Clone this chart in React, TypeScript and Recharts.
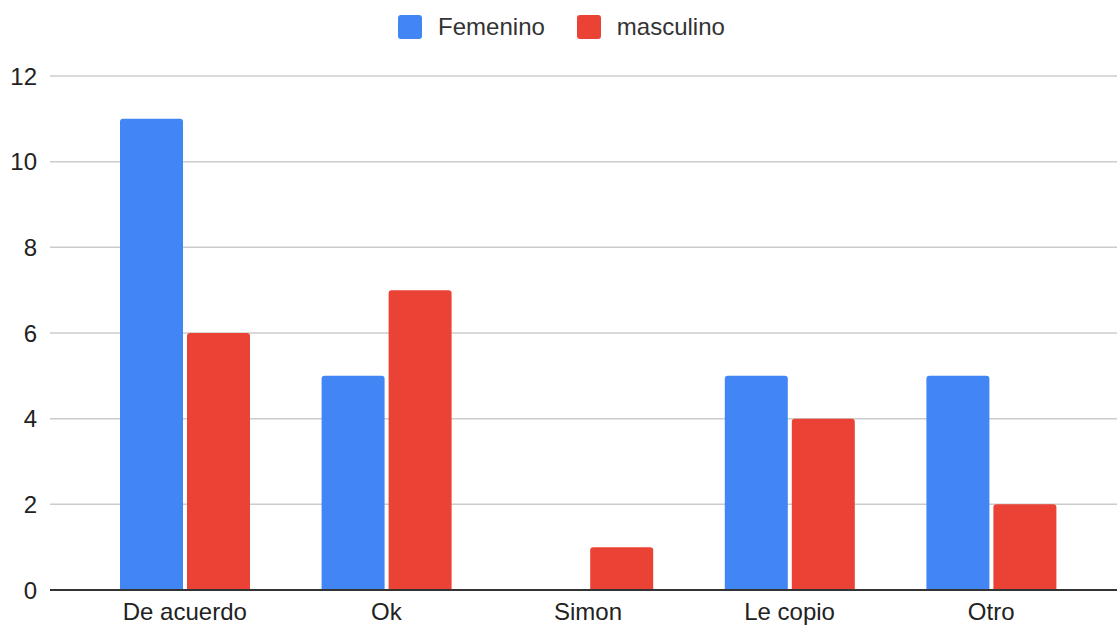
import React from "react";
import {
  BarChart,
  Bar,
  XAxis,
  YAxis,
  CartesianGrid,
  Legend,
} from "recharts";

const categories = ["De acuerdo", "Ok", "Simon", "Le copio", "Otro"];
const femenino = [11, 5, 0, 5, 5];
const masculino = [6, 7, 1, 4, 2];
const yTicks = [0, 2, 4, 6, 8, 10, 12];

const series = [
  { key: "femenino", name: "Femenino", color: "#4285F4" },
  { key: "masculino", name: "masculino", color: "#EA4335" },
];

const data = categories.map((name, i) => ({
  name,
  femenino: femenino[i],
  masculino: masculino[i],
}));

const FONT = 'Arial, "Liberation Sans", sans-serif';

function TopLegend() {
  return (
    <div
      style={{
        display: "flex",
        justifyContent: "center",
        alignItems: "center",
        fontFamily: FONT,
        fontSize: 24,
        color: "#333",
        height: 54,
        paddingLeft: 6,
      }}
    >
      {series.map((s, i) => (
        <div
          key={s.key}
          style={{
            display: "flex",
            alignItems: "center",
            marginLeft: i === 0 ? 0 : 32,
          }}
        >
          <span
            style={{
              width: 24,
              height: 24,
              borderRadius: 3,
              background: s.color,
              marginRight: 16,
              display: "inline-block",
            }}
          />
          <span>{s.name}</span>
        </div>
      ))}
    </div>
  );
}

export default function App() {
  return (
    <div style={{ width: 1117, height: 625, background: "#fff" }}>
      <style>{"body{margin:0}"}</style>
      <BarChart
        width={1117}
        height={625}
        data={data}
        margin={{ top: 22, right: 0, left: 0, bottom: 0 }}
        barSize={63}
        barGap={4}
      >
        <CartesianGrid vertical={false} stroke="#cccccc" strokeWidth={1.5} />
        <XAxis
          dataKey="name"
          height={35}
          padding={{ left: 34, right: 25 }}
          tickLine={false}
          axisLine={{ stroke: "#333", strokeWidth: 2 }}
          tick={{ fill: "#222", fontSize: 24, fontFamily: FONT }}
          tickMargin={7}
        />
        <YAxis
          width={50}
          domain={[0, 12]}
          ticks={yTicks}
          axisLine={false}
          tickLine={false}
          tickSize={0}
          tickMargin={13}
          tick={{ fill: "#222", fontSize: 24, fontFamily: FONT }}
        />
        <Legend
          verticalAlign="top"
          align="left"
          wrapperStyle={{ top: 0, left: 0, width: 1117 }}
          content={() => <TopLegend />}
        />
        {series.map((s) => (
          <Bar
            key={s.key}
            dataKey={s.key}
            name={s.name}
            fill={s.color}
            radius={[3, 3, 0, 0]}
            isAnimationActive={false}
          />
        ))}
      </BarChart>
    </div>
  );
}
